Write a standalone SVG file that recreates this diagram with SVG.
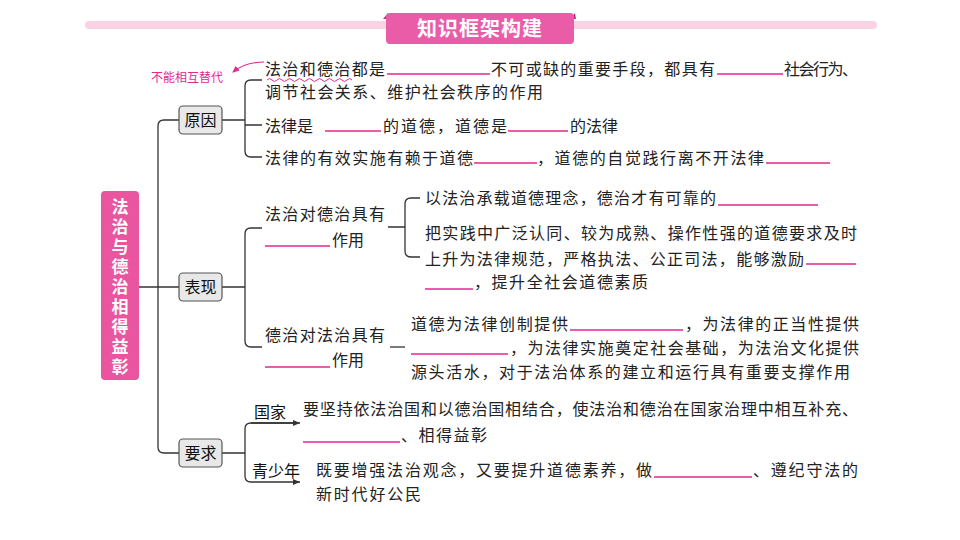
<svg xmlns="http://www.w3.org/2000/svg" width="960" height="540" viewBox="0 0 960 540">
<style>
.t{font-family:"Noto Sans CJK SC","Liberation Sans",sans-serif;font-size:16px;fill:#222}
.b{stroke:#e0298f;stroke-width:1.3}
.c{fill:none;stroke:#333;stroke-width:1.3}
.box{fill:#e8e8e8;stroke:#555;stroke-width:1.2}
.n{font-family:"Noto Sans CJK SC",sans-serif;font-size:16px;fill:#111}
.v{font-family:"Noto Sans CJK SC",sans-serif;font-size:17px;font-weight:bold;fill:#fff}
</style>
<defs><marker id="ar" markerWidth="8" markerHeight="8" refX="7" refY="4" orient="auto" markerUnits="userSpaceOnUse"><path d="M0,1 L7,4 L0,7z" fill="#333"/></marker>
<marker id="pa" markerWidth="8" markerHeight="8" refX="6" refY="4" orient="auto" markerUnits="userSpaceOnUse"><path d="M0,1 L7,4 L0,7z" fill="#e0298f"/></marker></defs>
<rect width="960" height="540" fill="#fff"/>
<g id="title">
<rect x="85" y="21" width="792" height="8" rx="4" fill="#f9d3e3"/>
<path d="M383,19 L388,13 L390,19z M570,19 L575,13 L576,19z" fill="#c2307f"/>
<rect x="386" y="13" width="188" height="31" rx="4" fill="#ea5ca8"/>
<text x="480" y="36" text-anchor="middle" font-family="Noto Sans CJK SC,sans-serif" font-size="20" font-weight="bold" fill="#fff" letter-spacing="1">知识框架构建</text>
</g>
<g id="connectors">
<path class="c" d="M179,120 H164 Q158,120 158,126 V447 Q158,453 164,453 H179"/>
<path class="c" d="M139,287 H179"/>
<path class="c" d="M222,120 H245 M262,80 H251 Q245,80 245,86 V151 Q245,157 251,157 H262 M245,125 H262"/>
<path class="c" d="M222,287 H245 M262,228 H251 Q245,228 245,234 V341 Q245,347 251,347 H262"/>
<path class="c" d="M388,227 H405 M420,198 H411 Q405,198 405,204 V251 Q405,257 411,257 H420"/>
<path class="c" d="M390,347 H405"/>
<path class="c" d="M222,453 H245 M296,423 H251 Q245,423 245,429 V476 Q245,482 251,482 H300" marker-end="url(#ar)"/>
<path class="c" d="M251,423 H300" marker-end="url(#ar)"/>
<path d="M264,62 Q245,62 233,72" fill="none" stroke="#e0298f" stroke-width="1.2" marker-end="url(#pa)"/>
<path d="M267,80 q2.5,-3 5,0 t5,0 t5,0 t5,0 t5,0 t5,0 t5,0 t5,0 t5,0 t5,0 t5,0 t5,0 t5,0 t5,0 t5,0 t5,0 t5,0" fill="none" stroke="#e0298f" stroke-width="1"/>
</g>
<g id="root">
<rect x="101" y="191" width="38" height="189" rx="4" fill="#e9559f"/>
<text class="v" text-anchor="middle"><tspan x="120" y="213">法</tspan><tspan x="120" y="233">治</tspan><tspan x="120" y="253">与</tspan><tspan x="120" y="273">德</tspan><tspan x="120" y="293">治</tspan><tspan x="120" y="313">相</tspan><tspan x="120" y="333">得</tspan><tspan x="120" y="353">益</tspan><tspan x="120" y="373">彰</tspan></text>
</g>
<g id="node-yuanyin"><rect class="box" x="179" y="106" width="43" height="28" rx="4"/><text class="n" x="200.5" y="126" text-anchor="middle">原因</text></g>
<g id="node-biaoxian"><rect class="box" x="179" y="273" width="43" height="28" rx="4"/><text class="n" x="200.5" y="293" text-anchor="middle">表现</text></g>
<g id="node-yaoqiu"><rect class="box" x="179" y="439" width="43" height="28" rx="4"/><text class="n" x="200.5" y="459" text-anchor="middle">要求</text></g>
<g id="note"><text x="151" y="82" font-family="Noto Sans CJK SC,sans-serif" font-size="12" fill="#e0298f">不能相互替代</text></g>
<g id="reasons">
<text class="t" x="265" y="75" textLength="120" lengthAdjust="spacing">法治和德治都是</text><line class="b" x1="387" y1="74" x2="490" y2="74"/>
<text class="t" x="491" y="75" textLength="224" lengthAdjust="spacing">不可或缺的重要手段，都具有</text><line class="b" x1="717" y1="74" x2="783" y2="74"/>
<text class="t" x="784" y="75" textLength="74" lengthAdjust="spacing">社会行为、</text>
<text class="t" x="265" y="98" textLength="278" lengthAdjust="spacing">调节社会关系、维护社会秩序的作用</text>
<text class="t" x="265" y="132">法律是</text><line class="b" x1="325" y1="131" x2="381" y2="131"/>
<text class="t" x="383" y="132" textLength="124" lengthAdjust="spacing">的道德，道德是</text><line class="b" x1="508" y1="131" x2="568" y2="131"/>
<text class="t" x="570" y="132">的法律</text>
<text class="t" x="265" y="164" textLength="208" lengthAdjust="spacing">法律的有效实施有赖于道德</text><line class="b" x1="474" y1="163" x2="537" y2="163"/>
<text class="t" x="537" y="164" textLength="227" lengthAdjust="spacing">，道德的自觉践行离不开法律</text><line class="b" x1="766" y1="163" x2="830" y2="163"/>
</g>
<g id="biaoxian-1">
<text class="t" x="265" y="220" textLength="120" lengthAdjust="spacing">法治对德治具有</text><line class="b" x1="265" y1="246" x2="330" y2="246"/><text class="t" x="332" y="246">作用</text>
<text class="t" x="425" y="204" textLength="291" lengthAdjust="spacing">以法治承载道德理念，德治才有可靠的</text><line class="b" x1="718" y1="205" x2="818" y2="205"/>
<text class="t" x="425" y="239" textLength="432" lengthAdjust="spacing">把实践中广泛认同、较为成熟、操作性强的道德要求及时</text>
<text class="t" x="425" y="265" textLength="379" lengthAdjust="spacing">上升为法律规范，严格执法、公正司法，能够激励</text><line class="b" x1="806" y1="264" x2="856" y2="264"/>
<line class="b" x1="425" y1="289" x2="473" y2="289"/><text class="t" x="474" y="288" textLength="174" lengthAdjust="spacing">，提升全社会道德素质</text>
</g>
<g id="biaoxian-2">
<text class="t" x="265" y="341" textLength="120" lengthAdjust="spacing">德治对法治具有</text><line class="b" x1="265" y1="367" x2="330" y2="367"/><text class="t" x="332" y="366">作用</text>
<text class="t" x="411" y="330" textLength="157" lengthAdjust="spacing">道德为法律创制提供</text><line class="b" x1="570" y1="330" x2="683" y2="330"/><text class="t" x="685" y="330" textLength="174" lengthAdjust="spacing">，为法律的正当性提供</text>
<line class="b" x1="411" y1="354" x2="508" y2="354"/><text class="t" x="510" y="354" textLength="349" lengthAdjust="spacing">，为法律实施奠定社会基础，为法治文化提供</text>
<text class="t" x="411" y="378" textLength="439" lengthAdjust="spacing">源头活水，对于法治体系的建立和运行具有重要支撑作用</text>
</g>
<g id="yaoqiu">
<text class="n" x="254" y="418">国家</text>
<text class="t" x="303" y="415" textLength="555" lengthAdjust="spacing">要坚持依法治国和以德治国相结合，使法治和德治在国家治理中相互补充、</text>
<line class="b" x1="303" y1="442" x2="400" y2="442"/><text class="t" x="401" y="441" textLength="86" lengthAdjust="spacing">、相得益彰</text>
<text class="n" x="252" y="477">青少年</text>
<text class="t" x="316" y="476" textLength="336" lengthAdjust="spacing">既要增强法治观念，又要提升道德素养，做</text><line class="b" x1="654" y1="477" x2="752" y2="477"/><text class="t" x="753" y="476" textLength="105" lengthAdjust="spacing">、遵纪守法的</text>
<text class="t" x="316" y="500" textLength="105" lengthAdjust="spacing">新时代好公民</text>
</g>
</svg>
